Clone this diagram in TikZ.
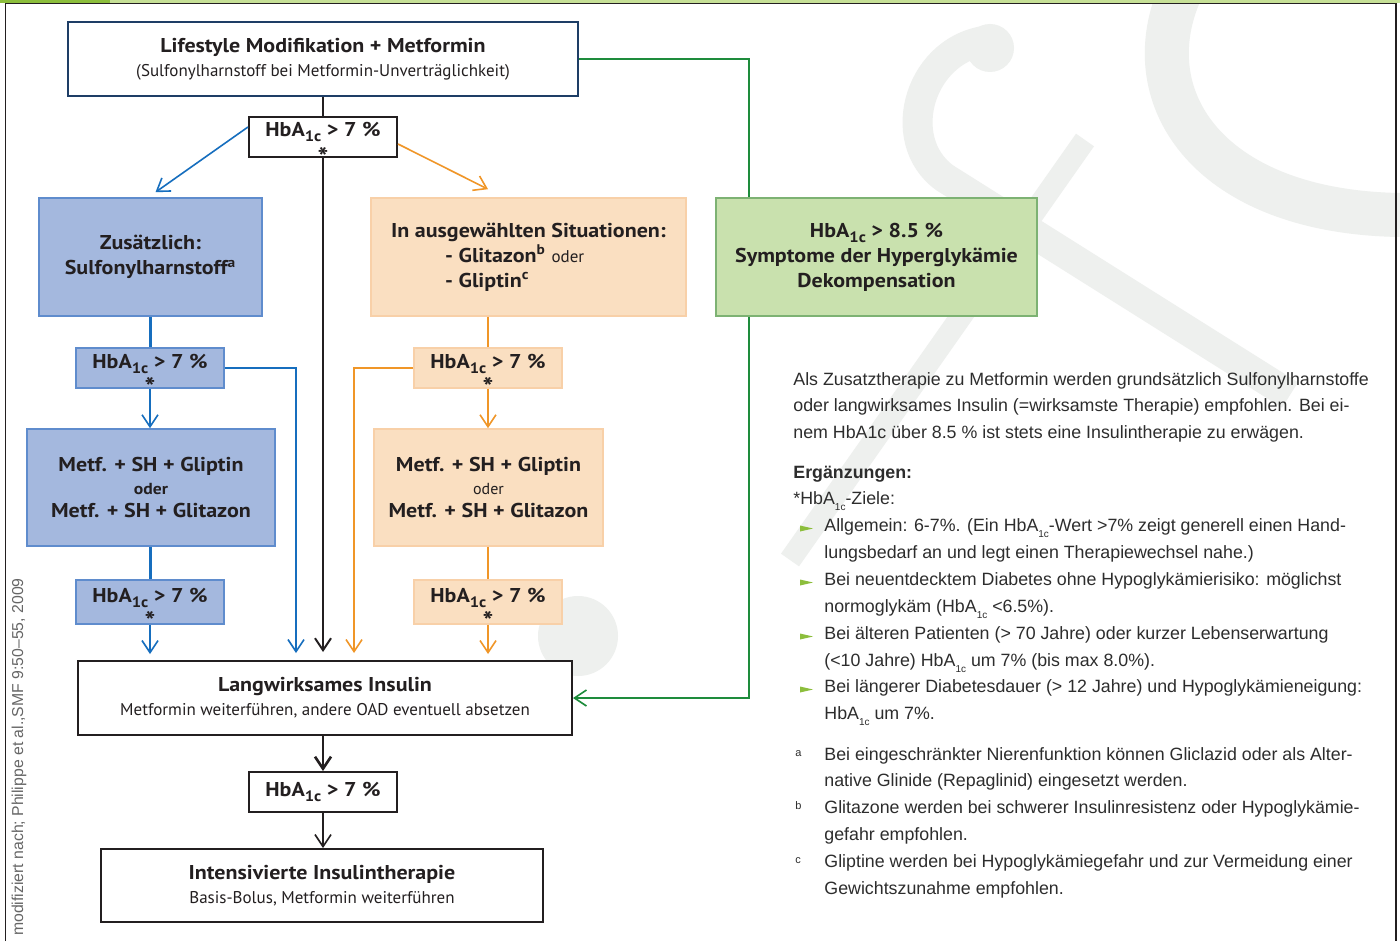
\documentclass[tikz,border=0pt]{standalone}
\usepackage{fontspec}
\setmainfont{PT Sans}[BoldFeatures={FakeStretch=1.1}]
\newfontfamily\notefont{Liberation Sans}
\usetikzlibrary{arrows.meta,calc,positioning}

\definecolor{ink}{RGB}{35,31,32}
\definecolor{navy}{RGB}{30,62,102}
\definecolor{blueline}{RGB}{22,110,190}
\definecolor{bluefill}{RGB}{164,184,222}
\definecolor{bluedraw}{RGB}{95,140,205}
\definecolor{orangeline}{RGB}{240,150,40}
\definecolor{orangefill}{RGB}{250,223,193}
\definecolor{orangedraw}{RGB}{248,208,168}
\definecolor{greenfill}{RGB}{201,225,174}
\definecolor{greendraw}{RGB}{125,178,115}
\definecolor{greenline}{RGB}{30,140,60}
\definecolor{bulletgreen}{RGB}{140,190,60}
\definecolor{barlight}{RGB}{198,224,150}
\definecolor{notetext}{RGB}{45,45,45}
\definecolor{wm}{RGB}{238,240,238}

\newcommand{\hbaone}{HbA\raisebox{-.5ex}{\fontsize{7.5}{8}\selectfont 1c}}
\newcommand{\hbanote}{HbA\raisebox{-.6ex}{\fontsize{5}{6}\selectfont 1c}}

\begin{document}
\begin{tikzpicture}[x=0.5pt,y=-0.5pt,
		box/.style={draw=ink,line width=1pt,fill=white,inner sep=0pt,align=center,text=ink,font=\fontsize{8.5}{12}\selectfont},
		hba/.style={box,minimum width=74pt,minimum height=20pt,font=\bfseries\fontsize{10}{10}\selectfont},
		starred/.style={text height=5pt,text depth=5pt},
		star/.style={inner sep=0pt,text=ink,font=\bfseries\fontsize{13}{13}\selectfont},
		bluebox/.style={box,draw=bluedraw,line width=.8pt,fill=bluefill},
		orangebox/.style={box,draw=orangedraw,line width=.8pt,fill=orangefill},
		title/.style={font=\bfseries\fontsize{10}{12.5}\selectfont},
		note/.style={inner sep=0pt,anchor=base west,text=notetext,font=\notefont\fontsize{8.9}{10}\selectfont},
		tip/.style={-{Straight Barb[length=6pt,width=8pt]}}
		]
		\useasboundingbox[fill=white] (0,0) rectangle (1400,941);
		
		% watermark
		\begin{scope}[wm]
			\draw[line width=22pt] (1179,-5) .. controls (1135,100) and (1210,212) .. (1400,215);
			\fill (990,48) circle[radius=24];
			\draw[line width=15pt] (992,40) .. controls (920,45) and (892,140) .. (945,178) -- (1290,395);
			\draw[line width=11pt] (1085,140) -- (790,560);
			\fill (578,636) circle[radius=40];
		\end{scope}
		
		\fill[barlight] (0,0) rectangle (1400,3);
		\fill[bulletgreen] (0,0) rectangle (110,3);
		\draw[ink,line width=.6pt] (5.5,941) -- (5.5,3.5) -- (1396,3.5) -- (1396,941);
		
		% flowchart
		\node[box,draw=navy,minimum width=255pt,minimum height=37pt] (life) at (323,59)
			{{\bfseries\fontsize{10}{12}\selectfont Lifestyle Modifikation + Metformin}\\(Sulfonylharnstoff bei Metformin-Unverträglichkeit)};
		\node[hba,starred] (h0) at (323,137) {\hbaone{} > 7 \%};
		\node[star] (h0s) at ($(h0.south)+(0,-1.5)$) {*};
		
		\node[bluebox,title,minimum width=111.5pt,minimum height=59pt] (sh) at (150.5,257)
			{Zusätzlich:\\Sulfonylharnstoff\textsuperscript{a}};
		\node[orangebox,title,minimum width=157.5pt,minimum height=59pt,align=left] (sit) at (528.5,257)
			{In ausgewählten Situationen:\\\hspace*{27pt}- Glitazon\textsuperscript{b} {\mdseries\fontsize{8.5}{12.5}\selectfont oder}\\\hspace*{27pt}- Gliptin\textsuperscript{c}};
		\node[box,title,draw=greendraw,line width=.8pt,fill=greenfill,minimum width=160.5pt,minimum height=59pt] (hyper) at (876.5,257)
			{\hbaone{} > 8.5 \%\\Symptome der Hyperglykämie\\Dekompensation};
		
		\node[hba,bluebox,starred,font=\bfseries\fontsize{10}{10}\selectfont] (hB1) at (150,368) {\hbaone{} > 7 \%};
		\node[star] (hB1s) at ($(hB1.south)+(0,-1.5)$) {*};
		\node[hba,orangebox,starred,font=\bfseries\fontsize{10}{10}\selectfont] (hO1) at (488,368) {\hbaone{} > 7 \%};
		\node[star] (hO1s) at ($(hO1.south)+(0,-1.5)$) {*};
		
		\node[bluebox,minimum width=124pt,minimum height=58.5pt,font=\bfseries\fontsize{10}{11.5}\selectfont] (combB) at (151,487.5)
			{Metf. + SH + Gliptin\\{\fontsize{8}{11}\selectfont oder}\\Metf. + SH + Glitazon};
		\node[orangebox,minimum width=114.5pt,minimum height=58.5pt,font=\bfseries\fontsize{10}{11.5}\selectfont] (combO) at (488.5,487.5)
			{Metf. + SH + Gliptin\\{\mdseries\fontsize{8}{11}\selectfont oder}\\Metf. + SH + Glitazon};
		
		\node[hba,bluebox,starred,minimum height=22pt,font=\bfseries\fontsize{10}{10}\selectfont] (hB2) at (150,602) {\hbaone{} > 7 \%};
		\node[star] (hB2s) at ($(hB2.south)+(0,-3.5)$) {*};
		\node[hba,orangebox,starred,minimum height=22pt,font=\bfseries\fontsize{10}{10}\selectfont] (hO2) at (488,602) {\hbaone{} > 7 \%};
		\node[star] (hO2s) at ($(hO2.south)+(0,-3.5)$) {*};
		
		\node[box,minimum width=247pt,minimum height=37pt] (lang) at (325,698)
			{{\bfseries\fontsize{10}{12}\selectfont Langwirksames Insulin}\\Metformin weiterführen, andere OAD eventuell absetzen};
		\node[hba] (hL) at (323,792) {\hbaone{} > 7 \%};
		\node[box,minimum width=221pt,minimum height=36.5pt] (intens) at (322,885.5)
			{{\bfseries\fontsize{10}{12}\selectfont Intensivierte Insulintherapie}\\Basis-Bolus, Metformin weiterführen};
		
		\coordinate (bIn) at (296,653);
		\coordinate (oIn) at (354,653);
		
		% connectors
		\draw[ink,line width=1pt] (life.south -| h0) -- (h0.north);
		\draw[ink,line width=1pt,tip] (h0.south) -- ($(h0.south |- lang.north)+(0,-8)$);
		\draw[blueline,line width=.8pt,tip] ([yshift=-5.5pt]h0.north west) -- ([xshift=2.5pt,yshift=2.5pt]sh.north);
		\draw[orangeline,line width=.8pt,tip] ([yshift=7pt]h0.south east) -- ($(hO1 |- sit.north)+(0,-8)$);
		
		\draw[blueline,line width=1.5pt] (hB1.north |- sh.south) -- (hB1.north);
		\draw[blueline,line width=.8pt,tip] (hB1.south) -- (hB1.south |- combB.north);
		\draw[blueline,line width=.8pt,tip] (hB1.east) -| (bIn);
		\draw[blueline,line width=1.5pt] (hB2.north |- combB.south) -- (hB2.north);
		\draw[blueline,line width=.8pt,tip] (hB2.south) -- ($(hB2.south |- lang.north)+(0,-6)$);
		
		\draw[orangeline,line width=1.2pt] (hO1.north |- sit.south) -- (hO1.north);
		\draw[orangeline,line width=.8pt,tip] (hO1.south) -- (hO1.south |- combO.north);
		\draw[orangeline,line width=.8pt,tip] (hO1.west) -| (oIn);
		\draw[orangeline,line width=.8pt] (hO2.north |- combO.south) -- (hO2.north);
		\draw[orangeline,line width=.8pt,tip] (hO2.south) -- ($(hO2.south |- lang.north)+(0,-6)$);
		
		\draw[greenline,line width=.8pt] (life.east) -| ([xshift=17pt]hyper.north west);
		\draw[greenline,line width=.8pt,tip] ([xshift=17pt]hyper.south west) |- (lang.east);
		
		\draw[ink,line width=1.3pt,tip] (hL.north |- lang.south) -- (hL.north);
		\draw[ink,line width=.8pt,tip] (hL.south) -- (hL.south |- intens.north);
		
		% source
		\node[rotate=90,text=black!60,font=\notefont\fontsize{7.9}{8}\selectfont] (src) at (19,757)
			{modifiziert nach; Philippe et al.,SMF 9:50–55, 2009};
		
		% notes
		\foreach \y/\t [count=\i] in {
				380/{Als Zusatztherapie zu Metformin werden grundsätzlich Sulfonylharnstoffe},
				406/{oder langwirksames Insulin (=wirksamste Therapie) empfohlen. Bei ei-},
				433/{nem HbA1c über 8.5 \% ist stets eine Insulintherapie zu erwägen.},
				473/{\bfseries Ergänzungen:},
				499/{*\hbanote-Ziele:}} {
			\node[note] (p\i) at (793,\y+5.5) {\t};
		}
		\foreach \y/\t [count=\i] in {
				526/{Allgemein: 6-7\%. (Ein \hbanote-Wert >7\% zeigt generell einen Hand-},
				553/{lungsbedarf an und legt einen Therapiewechsel nahe.)},
				580/{Bei neuentdecktem Diabetes ohne Hypoglykämierisiko: möglichst},
				607/{normoglykäm (\hbanote{} <6.5\%).},
				634/{Bei älteren Patienten (> 70 Jahre) oder kurzer Lebenserwartung},
				661/{(<10 Jahre) \hbanote{} um 7\% (bis max 8.0\%).},
				687/{Bei längerer Diabetesdauer (> 12 Jahre) und Hypoglykämieneigung:},
				714/{\hbanote{} um 7\%.},
				755/{Bei eingeschränkter Nierenfunktion können Gliclazid oder als Alter-},
				781/{native Glinide (Repaglinid) eingesetzt werden.},
				808/{Glitazone werden bei schwerer Insulinresistenz oder Hypoglykämie-},
				835/{gefahr empfohlen.},
				862/{Gliptine werden bei Hypoglykämiegefahr und zur Vermeidung einer},
				889/{Gewichtszunahme empfohlen.}} {
			\node[note] (q\i) at (824,\y+5.5) {\t};
		}
		\foreach \y in {526,580,634,687} {
			\fill[bulletgreen] (800,\y-0.5) -- (813,\y+2.5) -- (800,\y+5.5) -- cycle;
		}
		\foreach \y/\l in {755/a,808/b,862/c} {
			\node[note,font=\notefont\fontsize{5.5}{6}\selectfont] (f\l) at (795,\y+1) {\l};
		}
	\end{tikzpicture}
\end{document}
